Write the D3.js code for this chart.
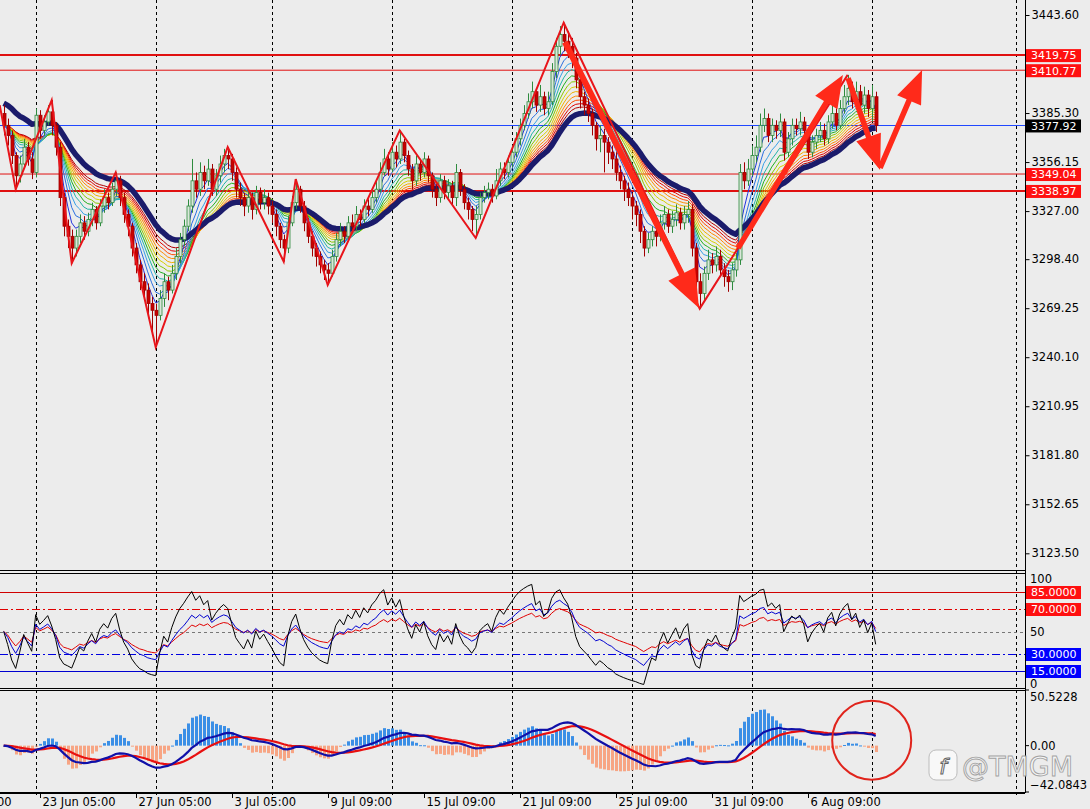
<!DOCTYPE html>
<html><head><meta charset="utf-8">
<script src="https://cdn.jsdelivr.net/npm/d3@7"></script>
<style>
body{margin:0;background:#ececec;}
svg{display:block;}
text{font-family:"DejaVu Sans",sans-serif;}
</style>
</head><body>
<svg id="c" width="1090" height="809"></svg>
<script>
// ---------------- DATA ----------------
const firstOpen = 3385;
const closes = [3378,3372,3360,3348,3355,3365,3358,3350,3384,3375,
3380,3386,3378,3365,3335,3318,3312,3305,3312,3320,
3315,3322,3328,3320,3330,3335,3332,3340,3345,3335,
3325,3318,3305,3295,3285,3280,3272,3268,3265,3275,
3285,3280,3290,3300,3310,3318,3330,3345,3340,3350,
3345,3352,3340,3348,3355,3360,3358,3350,3340,3335,
3330,3335,3328,3338,3332,3335,3330,3325,3318,3310,
3305,3320,3332,3340,3330,3320,3312,3305,3300,3295,
3292,3290,3300,3310,3315,3312,3320,3318,3325,3322,
3330,3328,3335,3340,3350,3358,3352,3362,3358,3368,
3360,3352,3345,3355,3350,3358,3348,3340,3335,3345,
3338,3342,3335,3350,3340,3332,3328,3322,3325,3335,
3338,3340,3336,3345,3352,3350,3356,3362,3370,3378,
3385,3392,3398,3390,3395,3388,3392,3410,3425,3432,
3428,3425,3418,3405,3395,3390,3385,3378,3370,3372,
3368,3362,3358,3350,3345,3340,3335,3330,3325,3315,
3305,3310,3315,3312,3320,3325,3318,3322,3326,3320,
3325,3328,3305,3285,3278,3290,3298,3295,3300,3292,
3288,3285,3292,3298,3350,3345,3352,3360,3365,3378,
3382,3372,3378,3375,3380,3362,3370,3378,3376,3380,
3375,3362,3368,3372,3375,3370,3380,3385,3378,3388,
3395,3400,3392,3398,3390,3396,3388,3395,3377.92];
const highs = [3390,3382,3375,3362,3360,3370,3368,3362,3388,3387,
3384,3390,3393,3380,3368,3338,3322,3316,3316,3325,
3324,3326,3332,3330,3334,3340,3338,3344,3350,3348,
3338,3328,3320,3308,3298,3290,3284,3276,3272,3280,
3290,3288,3295,3305,3314,3322,3334,3358,3350,3356,
3354,3358,3355,3352,3360,3364,3365,3361,3353,3344,
3338,3340,3338,3342,3341,3340,3338,3333,3328,3320,
3313,3324,3336,3346,3342,3333,3323,3315,3308,3303,
3298,3296,3304,3314,3320,3318,3324,3325,3330,3328,
3334,3334,3340,3345,3356,3364,3362,3368,3366,3375,
3370,3363,3355,3360,3358,3362,3360,3350,3343,3349,
3348,3346,3345,3355,3352,3343,3335,3330,3330,3338,
3342,3344,3343,3352,3356,3356,3360,3366,3374,3382,
3390,3397,3404,3400,3402,3398,3398,3415,3430,3437,
3439,3434,3430,3421,3408,3398,3394,3388,3380,3378,
3376,3371,3366,3362,3354,3348,3344,3338,3333,3328,
3318,3314,3318,3320,3325,3330,3328,3327,3331,3329,
3330,3333,3331,3308,3290,3294,3304,3302,3306,3304,
3296,3292,3296,3302,3355,3356,3358,3366,3372,3385,
3388,3385,3382,3381,3385,3382,3374,3382,3382,3386,
3383,3377,3372,3376,3380,3379,3384,3392,3388,3393,
3402,3408,3404,3404,3402,3401,3399,3402,3398];
const lows = [3372,3366,3355,3340,3344,3352,3354,3346,3347,3370,
3372,3378,3372,3360,3330,3312,3305,3296,3300,3308,
3310,3312,3318,3316,3318,3326,3328,3330,3336,3330,
3320,3312,3300,3290,3280,3274,3266,3255,3246,3262,
3270,3274,3278,3286,3296,3306,3315,3326,3335,3336,
3340,3342,3336,3336,3344,3350,3352,3345,3335,3330,
3324,3326,3322,3325,3328,3328,3325,3320,3312,3305,
3297,3302,3318,3328,3326,3315,3308,3300,3294,3290,
3286,3283,3288,3297,3306,3308,3309,3314,3315,3318,
3320,3324,3326,3332,3338,3348,3348,3350,3353,3355,
3356,3348,3340,3342,3345,3347,3344,3335,3330,3332,
3334,3334,3330,3330,3336,3328,3322,3315,3311,3322,
3332,3334,3332,3334,3342,3346,3347,3353,3359,3366,
3375,3382,3388,3386,3386,3384,3384,3390,3406,3420,
3422,3418,3412,3400,3388,3384,3380,3372,3363,3362,
3350,3355,3352,3345,3340,3333,3330,3322,3318,3308,
3300,3302,3306,3306,3309,3316,3314,3314,3318,3316,
3316,3320,3300,3280,3269,3274,3286,3290,3291,3288,
3282,3279,3280,3288,3295,3340,3342,3348,3356,3362,
3374,3368,3368,3370,3371,3357,3359,3366,3372,3372,
3370,3358,3359,3364,3368,3366,3367,3376,3375,3376,
3385,3390,3388,3389,3386,3385,3383,3380,3374];

// zigzag pivots (bar index, price)
const zigBars   = [-1,3,12,17,28,38,56,70,73,81,99,118,140,174,211];
const zigPrices = [3390,3340,3393,3296,3350,3246,3365,3297,3346,3283,3375,3311,3439,3269,3408];

// annotation arrows (start bar, start price, tip bar, tip price)
const arrowFromBar   = [140.3,183.6,211.1,219.1];
const arrowFromPrice = [3427.5,3305.0,3406.1,3352.6];
const arrowToBar     = [173.8,209.8,219.1,229.6];
const arrowToPrice   = [3269.4,3407.9,3351.4,3410.9];

const levelPrices = [3419.75,3410.77,3349.04,3338.97];
const currentPrice = 3377.92;
const priceTicks = [3443.60,3385.30,3356.15,3327.00,3298.40,3269.25,3240.10,3210.95,3181.80,3152.65,3123.50];
const rsiLevels = [85,70,50,30,15];
const macdMax = 50.5228, macdMin = -42.0843;
const timeLabels = ["18 Jun 09:00","23 Jun 05:00","27 Jun 05:00","3 Jul 05:00","9 Jul 09:00","15 Jul 09:00","21 Jul 09:00","25 Jul 09:00","31 Jul 09:00","6 Aug 09:00"];
const timeLabelBars = [-17,9,33,57,81,105,129,153,177,201];
const gridBars = [8,38,67,97,127,157,187,217,253];
const ribbonPeriods = [4,6,8,10,12,14,16,18,20,22,24,26];
const slowPeriod = 30;
const rsiPeriods = [6,14,24];
const macdFast = 12, macdSlow = 26, macdSignal = 9, histGain = 3;
const circleBar = 217, circleValue = 5;

// ---------------- HELPERS ----------------
function ema(arr,n,seed){const k=2/(n+1);let e=(seed===undefined)?arr[0]:seed;return arr.map(v=>(e=e+k*(v-e)));}
function rsi(arr,n){let ag=2,al=2;const out=[];arr.forEach((v,i)=>{if(i===0){out.push(50);return;}const d=v-arr[i-1];ag=(ag*(n-1)+Math.max(d,0))/n;al=(al*(n-1)+Math.max(-d,0))/n;out.push(100-100/(1+ag/al));});return out;}

const N = closes.length;
const bars = closes.map((c,i)=>({i,o:i?closes[i-1]:firstOpen,c,h:highs[i],l:lows[i]}));

// ---------------- SCALES ----------------
const svg = d3.select("#c");
const R = 1025;
const x = d3.scaleLinear().domain([0,N-1]).range([3.7,3.7+4*(N-1)]);
const yP = d3.scaleLinear().domain([3123.50,3443.60]).range([553.3,15]);
const yR = d3.scaleLinear().domain([0,100]).range([688,575]);
const yM = d3.scaleLinear().domain([macdMin,macdMax]).range([792,690]);

const panels = [{t:-1,b:570.5,id:"pm"},{t:573.5,b:688.5,id:"pr"},{t:690.5,b:792.5,id:"pc"}];
const defs = svg.append("defs");
panels.forEach(p=>defs.append("clipPath").attr("id",p.id).append("rect").attr("x",0).attr("y",p.t).attr("width",R).attr("height",p.b-p.t));

svg.append("rect").attr("width",1090).attr("height",809).attr("fill","#ececec");

// vertical dashed grid
svg.append("g").selectAll("line").data(gridBars).join("line")
  .attr("x1",d=>Math.round(x(d))+0.5).attr("x2",d=>Math.round(x(d))+0.5)
  .attr("y1",0).attr("y2",798).attr("stroke","#000").attr("stroke-width",1).attr("stroke-dasharray","3,3");

// ---------------- MAIN PANEL ----------------
const gm = svg.append("g").attr("clip-path","url(#pm)");
const levelWidths=[2,1,1,2];
gm.selectAll("line.lv").data(levelPrices).join("line").attr("class","lv")
  .attr("x1",0).attr("x2",R).attr("y1",d=>yP(d)).attr("y2",d=>yP(d))
  .attr("stroke","#e01010").attr("stroke-width",(d,i)=>levelWidths[i]);
gm.append("line").attr("x1",0).attr("x2",R).attr("y1",Math.round(yP(currentPrice))+0.5).attr("y2",Math.round(yP(currentPrice))+0.5)
  .attr("stroke","#2048ff").attr("stroke-width",1);

const ribbonColors=["#2233dd","#2a6fe0","#36a0e6","#22b3a8","#20b020","#88c800","#d6d000","#f0b000","#ff8a00","#ff4a00","#e00000","#b00000"];
const line = d3.line().x((d,i)=>x(i)).y(d=>yP(d));
ribbonPeriods.slice().reverse().forEach((p,k)=>{
  const idx = ribbonPeriods.length-1-k;
  gm.append("path").attr("d",line(ema(closes,p))).attr("fill","none").attr("stroke",ribbonColors[idx]).attr("stroke-width",1);
});
gm.append("path").attr("d",line(ema(closes,slowPeriod,3392))).attr("fill","none").attr("stroke","#1b1b6b").attr("stroke-width",5.5).attr("stroke-linejoin","round");

// candles
const cg = gm.append("g");
cg.selectAll("line").data(bars).join("line")
  .attr("x1",d=>Math.round(x(d.i))+0.5).attr("x2",d=>Math.round(x(d.i))+0.5)
  .attr("y1",d=>yP(d.h)).attr("y2",d=>yP(d.l))
  .attr("stroke",d=>d.c>=d.o?"#2e8b3e":"#a00000").attr("stroke-width",1);
cg.selectAll("rect").data(bars).join("rect")
  .attr("x",d=>Math.round(x(d.i))-1).attr("width",3)
  .attr("y",d=>yP(Math.max(d.o,d.c))).attr("height",d=>Math.max(1,Math.abs(yP(d.o)-yP(d.c))))
  .attr("fill",d=>d.c>=d.o?"#d9e6d9":"#c80000")
  .attr("stroke",d=>d.c>=d.o?"#2e8b3e":"#a00000").attr("stroke-width",0.8);

// zigzag
gm.append("path").attr("d",d3.line().x(d=>x(d[0])).y(d=>yP(d[1]))(zigBars.map((b,i)=>[b,zigPrices[i]])))
  .attr("fill","none").attr("stroke","#e8141a").attr("stroke-width",2);

// arrows
const shaftW=[6,5.5,5.5,5.5], headL=[38,32,35,33], headW=[30,26,26,26];
arrowFromBar.forEach((fb,k)=>{
  const x1=x(fb),y1=yP(arrowFromPrice[k]),x2=x(arrowToBar[k]),y2=yP(arrowToPrice[k]);
  const dx=x2-x1,dy=y2-y1,L=Math.hypot(dx,dy),ux=dx/L,uy=dy/L,px=-uy,py=ux;
  const bx=x2-ux*headL[k],by=y2-uy*headL[k],s=shaftW[k]/2,h=headW[k]/2;
  const pts=[[x1+px*s,y1+py*s],[bx+px*s,by+py*s],[bx+px*h,by+py*h],[x2,y2],[bx-px*h,by-py*h],[bx-px*s,by-py*s],[x1-px*s,y1-py*s]];
  svg.append("polygon").attr("points",pts.map(p=>p.join(",")).join(" ")).attr("fill","#ff2a1a");
});

// ---------------- RSI PANEL ----------------
const gr = svg.append("g").attr("clip-path","url(#pr)");
const lvStyle={85:["#d00000",""],70:["#e00000","8,3,2,3"],50:["#777","3,3"],30:["#0000e0","8,3,2,3"],15:["#0000d0",""]};
gr.selectAll("line").data(rsiLevels).join("line")
  .attr("x1",0).attr("x2",R).attr("y1",d=>Math.round(yR(d))+0.5).attr("y2",d=>Math.round(yR(d))+0.5)
  .attr("stroke",d=>lvStyle[d][0]).attr("stroke-dasharray",d=>lvStyle[d][1]).attr("stroke-width",1);
const rsiColors=["#000000","#0000d0","#e00000"];
const rline=d3.line().x((d,i)=>x(i)).y(d=>yR(d));
[2,1,0].forEach(k=>gr.append("path").attr("d",rline(rsi(closes,rsiPeriods[k]))).attr("fill","none").attr("stroke",rsiColors[k]).attr("stroke-width",1));

// ---------------- MACD PANEL ----------------
const gc = svg.append("g").attr("clip-path","url(#pc)");
const eF=ema(closes,macdFast), eS=ema(closes,macdSlow);
const dif=eF.map((v,i)=>v-eS[i]);
const dea=ema(dif,macdSignal);
const hist=dif.map((v,i)=>histGain*(v-dea[i]));
gc.selectAll("rect").data(hist).join("rect")
  .attr("x",(d,i)=>Math.round(x(i))-1).attr("width",3)
  .attr("y",d=>yM(Math.max(0,d))).attr("height",d=>Math.max(1,Math.abs(yM(d)-yM(0))))
  .attr("fill",d=>d>=0?"#3b8fe6":"#f7a584");
const mline=d3.line().x((d,i)=>x(i)).y(d=>yM(d));
gc.append("path").attr("d",mline(dea)).attr("fill","none").attr("stroke","#e81010").attr("stroke-width",2.2);
gc.append("path").attr("d",mline(dif)).attr("fill","none").attr("stroke","#1010a8").attr("stroke-width",2.2);
svg.append("circle").attr("cx",x(circleBar)).attr("cy",yM(circleValue)).attr("r",39.5)
  .attr("fill","none").attr("stroke","#e0241c").attr("stroke-width",2);

// ---------------- FRAMES ----------------
panels.forEach(p=>{
  [p.t,p.b].forEach(yy=>svg.append("line").attr("x1",0).attr("x2",R).attr("y1",yy).attr("y2",yy).attr("stroke","#000").attr("stroke-width",1));
});
svg.append("line").attr("x1",R+0.5).attr("x2",R+0.5).attr("y1",0).attr("y2",793).attr("stroke","#000");

// ---------------- PRICE AXIS ----------------
const fs="11.5px";
const ax = svg.append("g").attr("transform",`translate(${R+0.5},0)`)
  .call(d3.axisRight(yP).tickValues(priceTicks).tickFormat(d3.format(".2f")).tickSize(4).tickPadding(2));
ax.select(".domain").remove();
ax.selectAll("text").attr("font-size",fs).attr("fill","#000").attr("font-family","DejaVu Sans");
ax.selectAll("line").attr("stroke","#000");

function tag(yv,txt,bg){
  svg.append("rect").attr("x",R+1).attr("y",yv-6).attr("width",55).attr("height",13).attr("fill",bg);
  svg.append("text").attr("x",R+6).attr("y",yv+0.5).attr("dy","0.35em").attr("font-size","11px").attr("fill","#fff").text(txt);
}
levelPrices.forEach(v=>tag(yP(v),d3.format(".2f")(v),"#ff1010"));
tag(yP(currentPrice),d3.format(".2f")(currentPrice),"#000");

// RSI axis
svg.append("text").attr("x",R+5).attr("y",yR(100)).attr("dy","0.72em").attr("font-size",fs).text("100");
svg.append("text").attr("x",R+5).attr("y",yR(50)).attr("dy","0.35em").attr("font-size",fs).text("50");
svg.append("text").attr("x",R+5).attr("y",yR(0)).attr("font-size",fs).text("0");
[[85,"#ff1010"],[70,"#ff1010"],[30,"#0000ff"],[15,"#0000ff"]].forEach(([v,c])=>tag(Math.round(yR(v)),d3.format(".4f")(v),c));

// MACD axis
svg.append("text").attr("x",R+5).attr("y",yM(macdMax)+2).attr("dy","0.75em").attr("font-size",fs).text(d3.format(".4f")(macdMax));
svg.append("text").attr("x",R+5).attr("y",yM(0)).attr("dy","0.35em").attr("font-size",fs).text("0.00");
svg.append("text").attr("x",R+5).attr("y",yM(macdMin)-3).attr("font-size",fs).text(d3.format(".4f")(macdMin));
[macdMax,0,macdMin].forEach(v=>svg.append("line").attr("x1",R).attr("x2",R+4).attr("y1",yM(v)).attr("y2",yM(v)).attr("stroke","#000"));

// ---------------- TIME AXIS ----------------
svg.append("line").attr("x1",0).attr("x2",R).attr("y1",793.5).attr("y2",793.5).attr("stroke","#000");
const tg=svg.append("g");
timeLabelBars.forEach((b,k)=>{
  const xx=Math.round(x(b))+0.5;
  tg.append("line").attr("x1",xx).attr("x2",xx).attr("y1",793).attr("y2",798).attr("stroke","#000");
  tg.append("text").attr("x",xx+2).attr("y",806).attr("font-size",fs).text(timeLabels[k]);
});

// ---------------- WATERMARK ----------------
const wm=svg.append("g").attr("opacity",0.9);
wm.append("rect").attr("x",929).attr("y",750).attr("width",28).attr("height",30).attr("rx",7).attr("fill","#fafafa").attr("stroke","#b8b8b8");
wm.append("text").attr("x",943).attr("y",774).attr("text-anchor","middle").attr("font-size","22px").attr("fill","#fff").attr("stroke","#555").attr("stroke-width",1).attr("font-style","italic").text("f");
wm.append("text").attr("x",962).attr("y",776).attr("font-size","27px").attr("fill","#f6f6f6").attr("stroke","#9a9a9a").attr("stroke-width",0.9).attr("font-family","DejaVu Sans").text("@TMGM");
</script>
</body></html>
